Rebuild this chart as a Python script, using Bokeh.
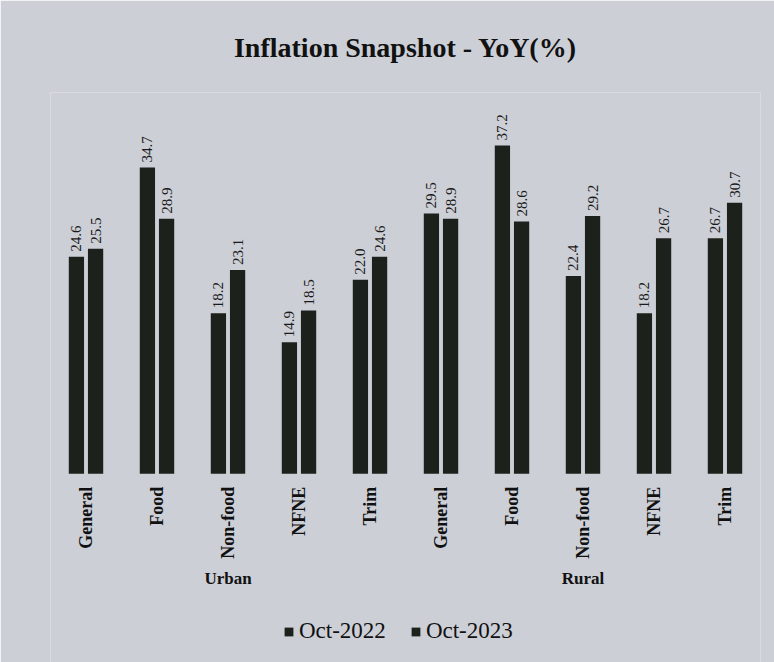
from math import pi
from bokeh.plotting import figure
from bokeh.models import FactorRange, ColumnDataSource, Range1d, Legend, LegendItem
from bokeh.transform import dodge
from bokeh.core.properties import value
from bokeh.embed import file_html
from bokeh.resources import INLINE

regions = ["Urban"] * 5 + ["Rural"] * 5
categories = ["General", "Food", "Non-food", "NFNE", "Trim"] * 2
oct_2022 = [24.6, 34.7, 18.2, 14.9, 22.0, 29.5, 37.2, 22.4, 18.2, 26.7]
oct_2023 = [25.5, 28.9, 23.1, 18.5, 24.6, 28.9, 28.6, 29.2, 26.7, 30.7]
series_names = ["Oct-2022", "Oct-2023"]

BG = "#cdcfd7"
BAR = "#1c211c"
INK = "#111111"
SERIF = "Liberation Serif"

factors = list(zip(regions, categories))
src = ColumnDataSource(dict(
    x=factors,
    a=oct_2022,
    b=oct_2023,
    la=[f"{v:.1f}" for v in oct_2022],
    lb=[f"{v:.1f}" for v in oct_2023],
))

# frame runs from below the title to the bottom of the page; y=0 is the bar baseline
p = figure(
    frame_width=710, frame_height=572,
    x_range=FactorRange(*factors, group_padding=0, factor_padding=0),
    y_range=Range1d(-21.6, 43.2),
    output_backend="svg", toolbar_location=None,
    min_border_left=50, min_border_right=14,
    min_border_top=90, min_border_bottom=0,
    background_fill_color=BG, border_fill_color=BG,
    outline_line_color=None,
)

p.title.text = "Inflation Snapshot - YoY(%)"
p.title.align = "center"
p.title.text_font = SERIF
p.title.text_font_size = "28px"
p.title.text_font_style = "bold"
p.title.text_color = INK
p.title.standoff = 59

off, w = 0.135, 0.215
r1 = p.vbar(x=dodge("x", -off, range=p.x_range), top="a", width=w, source=src,
            fill_color=BAR, line_color=None)
r2 = p.vbar(x=dodge("x", off, range=p.x_range), top="b", width=w, source=src,
            fill_color=BAR, line_color=None)

for col, lab, d in (("a", "la", -off), ("b", "lb", off)):
    p.text(x=dodge("x", d, range=p.x_range), y=col, text=lab, source=src,
           angle=pi / 2, text_align="left", text_baseline="middle",
           y_offset=-5, text_font=value(SERIF), text_font_size="15px",
           text_color="#1a1a1a")

p.grid.visible = False
p.yaxis.visible = False
ax = p.xaxis[0]
ax.fixed_location = 0
ax.axis_line_color = None
ax.major_tick_line_color = None
ax.minor_tick_line_color = None
ax.major_label_orientation = pi / 2
ax.major_label_standoff = 7
ax.major_label_text_font = SERIF
ax.major_label_text_font_style = "bold"
ax.major_label_text_font_size = "18px"
ax.major_label_text_color = INK
ax.group_label_orientation = "horizontal"
ax.group_text_font = SERIF
ax.group_text_font_style = "bold"
ax.group_text_font_size = "17px"
ax.group_text_color = INK
ax.separator_line_color = None

legend = Legend(items=[LegendItem(label=series_names[0], renderers=[r1]),
                       LegendItem(label=series_names[1], renderers=[r2])],
                orientation="horizontal", location=(233, 20),
                label_text_font=SERIF, label_text_font_size="23px",
                label_text_color=INK,
                glyph_width=11, glyph_height=11, label_standoff=5, spacing=24,
                background_fill_alpha=0, border_line_color=None)
p.add_layout(legend, "center")

html = file_html(p, INLINE)
html = html.replace("<body>", f'<body style="margin:0;background:{BG}">', 1)
open("out.html", "w").write(html)
